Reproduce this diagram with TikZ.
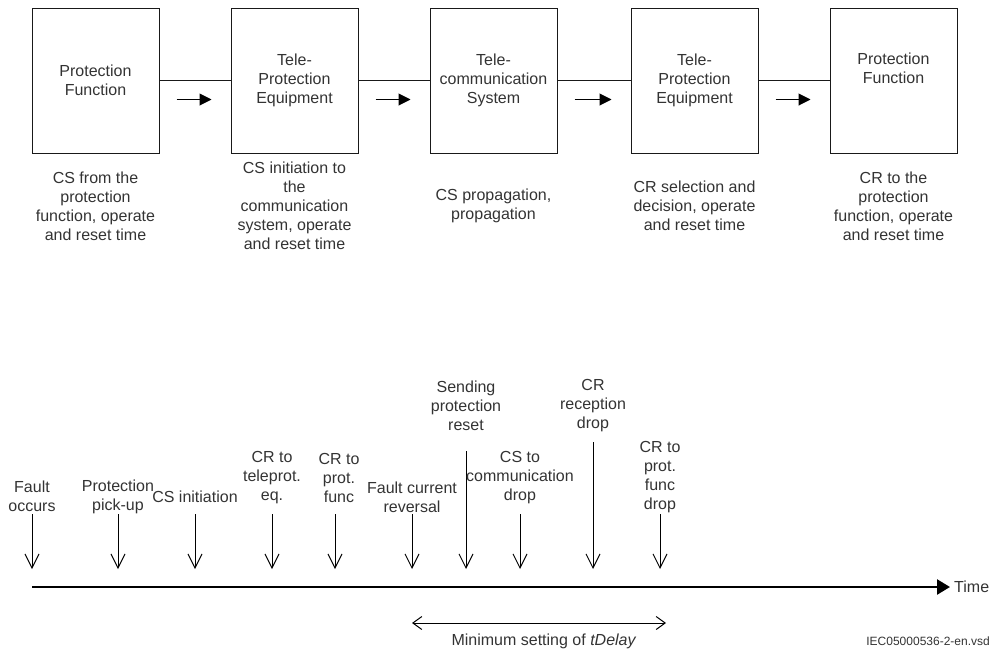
\documentclass[tikz,border=0pt]{standalone}
\usepackage{fontspec}
\setmainfont{Liberation Sans}
\usetikzlibrary{arrows.meta,positioning,calc}
\definecolor{inkgray}{HTML}{333333}
\newcommand{\bigtext}{\fontsize{16}{19}\selectfont}
\newcommand{\smalltext}{\fontsize{12}{14}\selectfont}

\begin{document}
\begin{tikzpicture}[x=1pt,y=-1pt,
    blockbox/.style={draw=black!90,line width=1pt,minimum width=127pt,minimum height=145pt,
        align=center,inner sep=0pt,text=inkgray,font=\bigtext},
    captext/.style={align=center,inner sep=0pt,text=inkgray,font=\bigtext},
    sigarrow/.style={line width=1pt,-{Triangle[length=12pt,width=12pt]}},
    eventarrow/.style={line width=1pt,-{Straight Barb[length=14pt,width=14pt]}},
    timeaxis/.style={line width=2.5pt,-{Triangle[length=13pt,width=15pt]}},
    spanarrow/.style={line width=1pt,{Straight Barb[length=9pt,width=13pt]}-{Straight Barb[length=9pt,width=13pt]}}]
\useasboundingbox (0,0) rectangle (992,651);
% signal chain
\foreach \n/\x/\txt in {pfa/95.5/{Protection\\Function},
                        tpa/294.5/{Tele-\\Protection\\Equipment},
                        tcs/493.5/{Tele-\\communication\\System},
                        tpb/694.5/{Tele-\\Protection\\Equipment},
                        pfb/893.5/{Protection\\Function\\\strut}}{
    \node[blockbox] (\n) at (\x,80.5) {\txt};}
\foreach \n/\txt in {pfa/{CS from the\\protection\\function, operate\\and reset time},
                     tpa/{CS initiation to\\the\\communication\\system, operate\\and reset time},
                     tcs/{CS propagation,\\propagation},
                     tpb/{CR selection and\\decision, operate\\and reset time},
                     pfb/{CR to the\\protection\\function, operate\\and reset time}}{
    \node[captext] (\n cap) at (\n.center |- 0,206) {\txt};}
\foreach \a/\b in {pfa/tpa,tpa/tcs,tcs/tpb,tpb/pfb}{
    \draw[line width=1pt,black!90] (\a.east) -- (\b.west);
    \draw[sigarrow] ($(\a.east)+(17,19)$) -- ($(\b.west)+(-19,19)$);}
% time axis
\coordinate (t0) at (32,587);
\coordinate (t1) at (950,587);
\draw[timeaxis] (t0) -- (t1);
\node[captext,anchor=west] (time) at ($(t1)+(4,0)$) {Time};
\foreach \i/\x/\yt/\lx/\ly/\txt in {1/32/514/32/496/{Fault\\occurs},
        2/118/514/118/497/{Protection\\pick-up},
        3/195/514/195/497/{CS initiation},
        4/272/514/272/478/{CR to\\teleprot.\\eq.},
        5/335/514/339/478/{CR to\\prot.\\func},
        6/412/514/412/497/{Fault current\\reversal},
        7/466/451/466/406/{Sending\\protection\\reset},
        8/520/514/520/478/{CS to\\communication\\drop},
        9/593/442/593/406/{CR\\reception\\drop},
        10/660/514/660/477/{CR to\\prot.\\func\\drop}}{
    \node[captext] (ev\i) at (\lx,\ly) {\txt};
    \coordinate (evtop\i) at (\x,\yt);
    \coordinate (evbot\i) at (\x,569);
    \draw[eventarrow] (evtop\i) -- (evbot\i);}
% minimum tDelay span
\coordinate (ms0) at (412,623);
\coordinate (ms1) at (666,623);
\draw[spanarrow] (ms0) -- (ms1);
\node[captext] (minset) at (544,641) {Minimum setting of \textit{tDelay}};
\node[captext,font=\smalltext,anchor=east] (docid) at (990,641) {IEC05000536-2-en.vsd};
\end{tikzpicture}
\end{document}
